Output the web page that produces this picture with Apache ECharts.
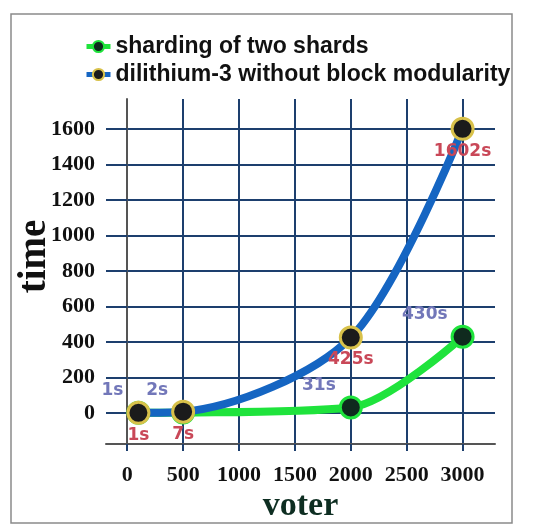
<!DOCTYPE html>
<html>
<head>
<meta charset="utf-8">
<script src="https://cdn.jsdelivr.net/npm/echarts@6/dist/echarts.min.js"></script>
<style>
  html, body { margin: 0; padding: 0; background: #fff; }
  #chart { width: 550px; height: 532px; }
</style>
</head>
<body>
<div id="chart"></div>
<script>
// voter counts and times (seconds)
const voters = [100, 500, 2000, 3000]
const shardTimes = [1, 2, 31, 430]
const dilithiumTimes = [1, 7, 425, 1602]
const xTicks = [0, 500, 1000, 1500, 2000, 2500, 3000]
const yTicks = [0, 200, 400, 600, 800, 1000, 1200, 1400, 1600]

const gridColor = '#1d3f6e'
const serif = '"Liberation Serif", "Times New Roman", serif'
const labelFont = '"DejaVu Sans", Verdana, sans-serif'

const chart = echarts.init(document.getElementById('chart'))

const toPoints = (ys) => voters.map((v, i) => [v, ys[i]])

const option = {
  animation: false,
  graphic: [
    {
      type: 'rect',
      shape: { x: 11, y: 14, width: 501, height: 509 },
      style: { fill: 'none', stroke: '#8a8a8a', lineWidth: 1.5 }
    }
  ],
  legend: {
    orient: 'vertical',
    left: 84,
    top: 35,
    padding: 0,
    itemGap: 5,
    itemWidth: 24,
    itemHeight: 14,
    lineStyle: { width: 5 },
    textStyle: {
      fontFamily: '"Liberation Sans", Arial, sans-serif',
      fontWeight: 'bold',
      fontSize: 23,
      color: '#111'
    }
  },
  grid: { left: 106, right: 55, top: 99, bottom: 88, outerBoundsMode: 'none' },
  xAxis: {
    type: 'value',
    min: -190,
    max: 3290,
    name: 'voter',
    nameLocation: 'middle',
    nameGap: 45,
    nameMoveOverlap: false,
    nameTextStyle: { fontFamily: serif, fontWeight: 'bold', fontSize: 34, color: '#0e2e22' },
    axisLine: { onZero: false, lineStyle: { color: '#555', width: 2 } },
    axisTick: { customValues: xTicks, length: 7, lineStyle: { color: gridColor, width: 2 } },
    axisLabel: {
      customValues: xTicks,
      formatter: (v) => String(v),
      margin: 20,
      fontFamily: serif,
      fontWeight: 'bold',
      fontSize: 22,
      color: '#111'
    },
    splitLine: { show: true, lineStyle: { color: gridColor, width: 2 } }
  },
  yAxis: {
    type: 'value',
    min: -175,
    max: 1770,
    name: 'time',
    nameLocation: 'middle',
    nameGap: 52,
    nameMoveOverlap: false,
    nameTextStyle: {
      fontFamily: serif,
      fontWeight: 'bold',
      fontSize: 39,
      color: '#111',
      padding: [0, 0, 0, 30]
    },
    axisLine: { show: true, lineStyle: { color: '#555', width: 2 } },
    axisTick: { show: true, customValues: yTicks, length: 6, lineStyle: { color: gridColor, width: 2 } },
    axisLabel: {
      customValues: yTicks,
      formatter: (v) => String(v),
      margin: 11,
      fontFamily: serif,
      fontWeight: 'bold',
      fontSize: 22,
      color: '#111'
    },
    splitLine: { show: true, lineStyle: { color: gridColor, width: 2 } }
  },
  series: [
    {
      name: 'sharding of two shards',
      type: 'line',
      smooth: 0.3,
      data: toPoints(shardTimes),
      symbol: 'circle',
      symbolSize: 21,
      lineStyle: { color: '#1fe33c', width: 8 },
      itemStyle: { color: '#0f2a1e', borderColor: '#1fe33c', borderWidth: 3 },
      label: {
        show: true,
        position: 'left',
        distance: 3,
        offset: [0, -22],
        formatter: (p) => p.value[1] + 's',
        fontFamily: labelFont,
        fontWeight: 'bold',
        fontSize: 17,
        color: '#7277b9'
      },
      z: 2
    },
    {
      name: 'dilithium-3 without block modularity',
      type: 'line',
      smooth: 0.3,
      data: toPoints(dilithiumTimes),
      symbol: 'circle',
      symbolSize: 21,
      lineStyle: { color: '#1565c2', width: 8 },
      itemStyle: { color: '#1b1b1b', borderColor: '#d8c14a', borderWidth: 3 },
      label: {
        show: true,
        position: 'bottom',
        distance: 2,
        formatter: (p) => p.value[1] + 's',
        fontFamily: labelFont,
        fontWeight: 'bold',
        fontSize: 17,
        color: '#c94858'
      },
      z: 3
    }
  ]
}

chart.setOption(option)
</script>
</body>
</html>
